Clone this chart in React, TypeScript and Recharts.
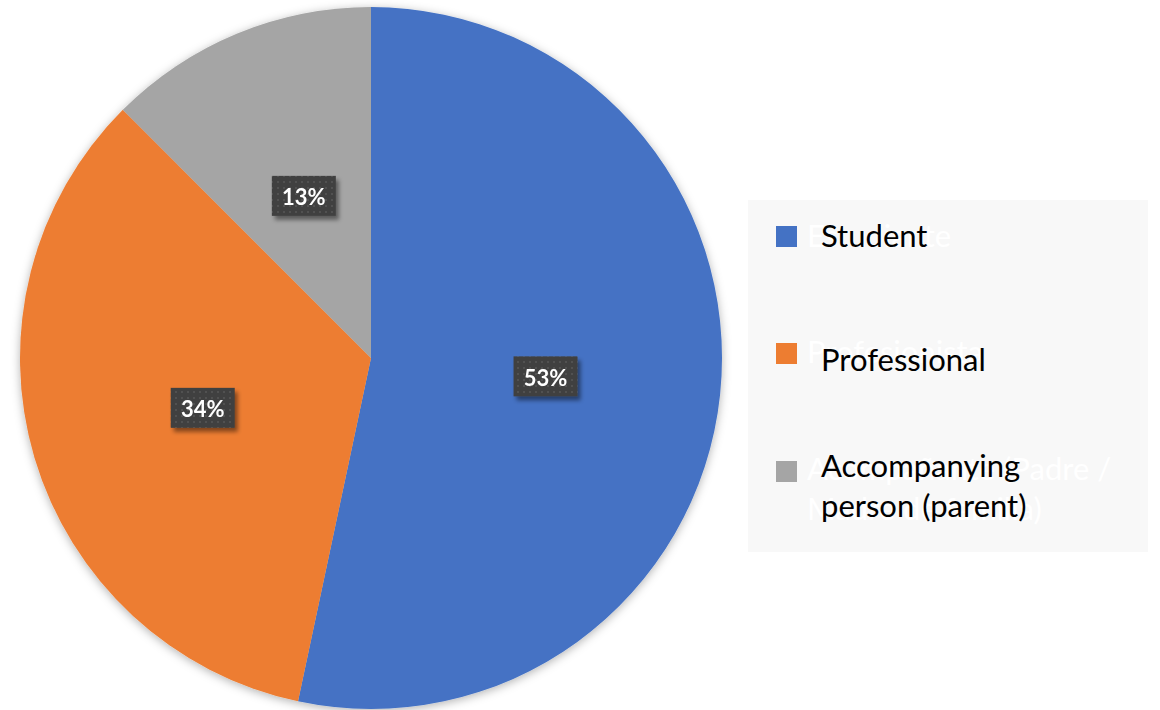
import { PieChart, Pie, Cell, Legend } from 'recharts';

// respuestas por tipo de asistente
const categories = ['Student', 'Professional', 'Accompanying person (parent)'];
const ghostLabels = ['Estudiante', 'Profesionista', 'Acompañante (Padre / Madre de familia)'];
const counts = [64, 41, 15];
const COLORS = ['#4472C4', '#ED7D31', '#A5A5A5'];

const data = categories.map((name, i) => ({ name, value: counts[i] }));

const RAD = Math.PI / 180;

const renderLabel = (props: any) => {
  const { cx, cy, midAngle, outerRadius, percent } = props;
  const r = outerRadius * 0.5;
  const x = cx + r * Math.cos(-midAngle * RAD);
  const y = cy + r * Math.sin(-midAngle * RAD);
  return (
    <g filter="url(#labelShadow)">
      <rect x={x - 32} y={y - 20} width={64} height={40} fill="url(#dots)" />
      <text
        x={x}
        y={y + 1}
        fill="#fff"
        fontWeight={700}
        fontSize={22}
        fontFamily="Lato, sans-serif"
        textAnchor="middle"
        dominantBaseline="central"
      >
        {Math.round(percent * 100)}%
      </text>
    </g>
  );
};

// posiciones de cada item dentro de la caja de la leyenda
const itemTops = [26, 143, 261];
const textTops = [15, 139, 245];
const ghostTops = [15, 131, 248];

const renderLegend = (props: any) => {
  // el orden del payload puede venir invertido, lo ordenamos como las categorias
  const payload = [...(props.payload || [])].sort(
    (a: any, b: any) => categories.indexOf(a.value) - categories.indexOf(b.value)
  );
  return (
    <div style={{ position: 'relative', width: 400, height: 352, background: '#f8f8f8', fontFamily: 'Lato, sans-serif', fontSize: 31, lineHeight: '40px' }}>
      {ghostLabels.map((g, i) => (
        <div key={`g-${i}`} style={{ position: 'absolute', left: 59, top: ghostTops[i], width: 320, color: '#ffffff' }}>{g}</div>
      ))}
      {payload.map((entry: any, i: number) => (
        <div key={`l-${i}`}>
          <div style={{ position: 'absolute', left: 28, top: itemTops[i], width: 21, height: 21, background: entry.color }} />
          <div style={{ position: 'absolute', left: 73, top: textTops[i], width: 260, color: '#000' }}>{entry.value}</div>
        </div>
      ))}
    </div>
  );
};

export default function App() {
  return (
    <div style={{ position: 'relative', width: 1160, height: 710, background: '#fff' }}>
      <style>{`body{margin:0} .recharts-pie{filter:url(#pieShadow)}`}</style>
      <PieChart width={1160} height={710} margin={{ top: 0, right: 0, bottom: 0, left: 0 }}>
        <defs>
          <pattern id="dots" width="6" height="6" patternUnits="userSpaceOnUse">
            <rect width="6" height="6" fill="#3f3f3f" />
            <rect x="1" y="1" width="2" height="2" fill="#515151" />
          </pattern>
          <filter id="labelShadow" x="-30%" y="-30%" width="160%" height="160%">
            <feDropShadow dx="3" dy="4" stdDeviation="2" floodColor="#000" floodOpacity="0.45" />
          </filter>
          <filter id="pieShadow" x="-10%" y="-10%" width="120%" height="120%">
            <feDropShadow dx="0" dy="2" stdDeviation="5" floodColor="#000" floodOpacity="0.3" />
          </filter>
        </defs>
        <Pie
          data={data}
          dataKey="value"
          nameKey="name"
          cx={371}
          cy={358}
          outerRadius={351}
          startAngle={90}
          endAngle={-270}
          stroke="none"
          label={renderLabel}
          labelLine={false}
          isAnimationActive={false}
        >
          {data.map((entry, index) => (
            <Cell key={`cell-${index}`} fill={COLORS[index % COLORS.length]} />
          ))}
        </Pie>
        <Legend
          layout="vertical"
          align="right"
          verticalAlign="middle"
          content={renderLegend}
          wrapperStyle={{ left: 748, top: 200, width: 400, height: 352 }}
        />
      </PieChart>
    </div>
  );
}
